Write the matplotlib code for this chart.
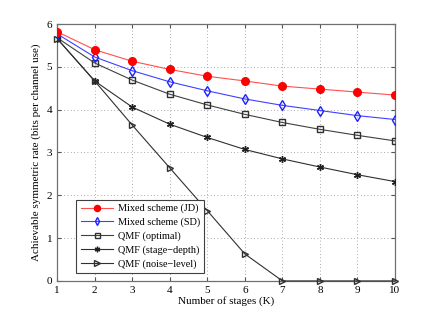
import numpy as np
import matplotlib
matplotlib.use('Agg')
import matplotlib.pyplot as plt

plt.rcParams['font.family'] = ['Liberation Serif', 'DejaVu Serif']

K = [1, 2, 3, 4, 5, 6, 7, 8, 9, 10]
jd = [5.82, 5.40, 5.13, 4.94, 4.78, 4.67, 4.55, 4.48, 4.41, 4.34]
sd = [5.77, 5.23, 4.91, 4.65, 4.44, 4.25, 4.10, 3.98, 3.86, 3.77]
qmf_opt = [5.68, 5.09, 4.69, 4.36, 4.11, 3.89, 3.70, 3.54, 3.40, 3.27]
qmf_stage = [5.66, 4.67, 4.06, 3.66, 3.35, 3.07, 2.85, 2.66, 2.48, 2.32]
qmf_noise = [5.66, 4.67, 3.64, 2.64, 1.64, 0.63, 0, 0, 0, 0]

fig = plt.figure(figsize=(4.36, 3.16), dpi=100)
ax = fig.add_axes([0.131, 0.111, 0.775, 0.813])

ax.plot(K, jd, color='#ff5050', lw=0.8, marker='o', ms=5.5, mfc='red', mec='red',
        label='Mixed scheme (JD)', zorder=5)
ax.plot(K, sd, color='#4040ff', lw=0.8, marker='d', ms=5, mfc='none', mec='#2020ff',
        label='Mixed scheme (SD)', zorder=4)
ax.plot(K, qmf_opt, color='#404040', lw=0.8, marker='s', ms=4.5, mfc='none', mec='#303030',
        label='QMF (optimal)', zorder=3)
ax.plot(K, qmf_stage, color='#303030', lw=0.8, marker=(6, 2, 0), ms=5, mec='#202020',
        label='QMF (stage\u2212depth)', zorder=3)
ax.plot(K, qmf_noise, color='#303030', lw=0.8, marker='>', ms=5, mfc='none', mec='#303030',
        label='QMF (noise\u2212level)', zorder=3, clip_on=False)

ax.set_xlim(1, 10)
ax.set_ylim(0, 6)
ax.set_xticks(K)
ax.set_yticks([0, 1, 2, 3, 4, 5, 6])
ax.grid(True, ls=(0, (1, 3)), color='#909090', lw=0.6)
ax.tick_params(direction='in', labelsize=8, length=3, top=True, right=True, color='#555555')
for s in ax.spines.values():
    s.set_color('#707070')
    s.set_linewidth(0.9)
ax.set_xlabel('Number of stages (K)', fontsize=8, labelpad=1)
ax.set_ylabel('Achievable symmetric rate (bits per channel use)', fontsize=8, labelpad=4)

leg = ax.legend(loc='lower left', bbox_to_anchor=(0.048, 0.018), fontsize=7.4, fancybox=False,
                edgecolor='#404040', framealpha=1, handlelength=3.2, borderpad=0.4,
                labelspacing=0.42, handletextpad=0.4, markerscale=0.8, borderaxespad=0.3)
leg.get_frame().set_linewidth(0.8)

fig.savefig('out.png', dpi=100)
